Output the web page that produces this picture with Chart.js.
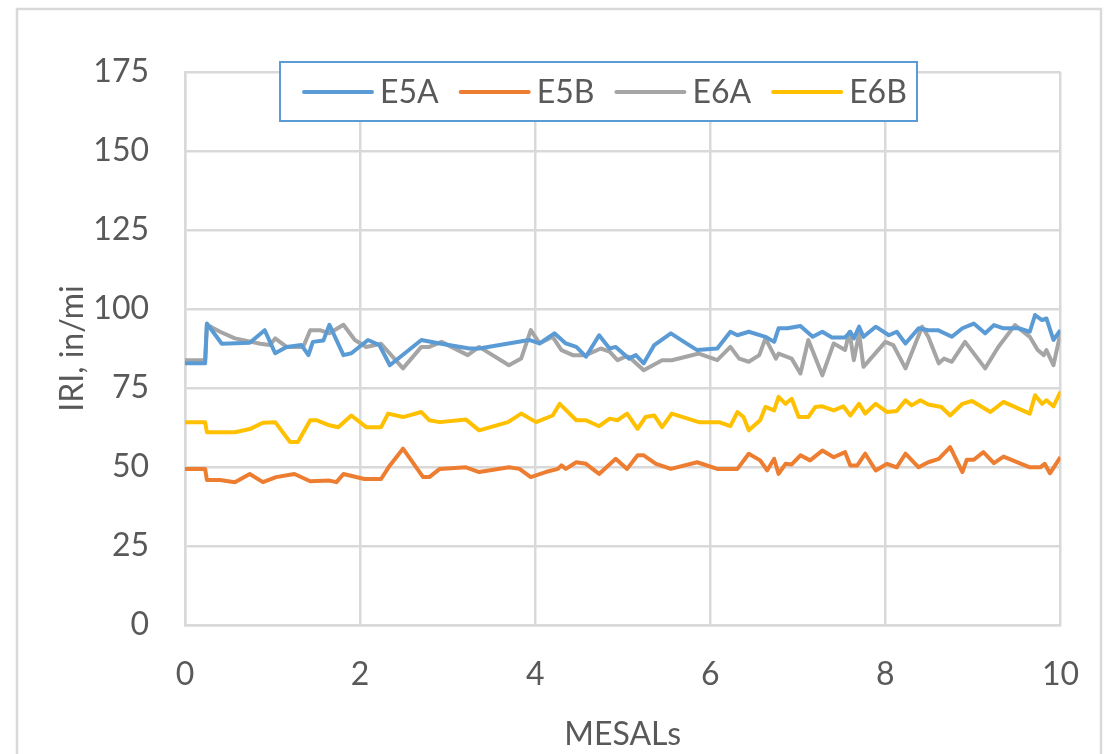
<!DOCTYPE html>
<html>
<head>
<meta charset="utf-8">
<script src="https://cdn.jsdelivr.net/npm/chart.js@4/dist/chart.umd.min.js"></script>
<style>
  html, body { margin: 0; padding: 0; background: #ffffff; }
  #wrap { width: 1109px; height: 754px; position: relative; }
</style>
</head>
<body>
<div id="wrap"><canvas id="grafica"></canvas></div>
<script>
/* ===============================
   DATOS
================================= */
const series = ["E5A", "E5B", "E6A", "E6B"];
const colores = ["#5b9bd5", "#ed7d31", "#a5a5a5", "#ffc000"];
const ticksX = [0, 2, 4, 6, 8, 10];
const ticksY = [0, 25, 50, 75, 100, 125, 150, 175];

const e5aX = [0, 0.23, 0.25, 0.42, 0.74, 0.91, 1.03, 1.16, 1.33, 1.41, 1.46, 1.58, 1.65, 1.81, 1.9, 2.09, 2.22, 2.34, 2.7, 2.91, 3.25, 3.36, 3.93, 4.05, 4.22, 4.35, 4.47, 4.58, 4.73, 4.85, 4.92, 5.07, 5.15, 5.24, 5.36, 5.55, 5.7, 5.85, 6.08, 6.23, 6.31, 6.44, 6.63, 6.73, 6.78, 6.88, 7.03, 7.17, 7.28, 7.39, 7.54, 7.6, 7.64, 7.7, 7.75, 7.89, 8.04, 8.13, 8.23, 8.38, 8.49, 8.6, 8.76, 8.88, 9.01, 9.14, 9.24, 9.35, 9.52, 9.65, 9.71, 9.79, 9.84, 9.92, 10];
const e5aY = [82.8, 82.8, 95.4, 89, 89.3, 93.3, 86, 88, 88.6, 85.4, 89.6, 90, 95, 85.4, 86, 90.2, 88.6, 82.2, 90.2, 89.1, 87.5, 87.5, 90.2, 89.1, 92.3, 89.1, 88, 84.9, 91.7, 87.5, 88, 84.3, 85.4, 82.8, 88.6, 92.3, 89.6, 87, 87.5, 92.8, 91.7, 92.8, 91.2, 89.6, 93.9, 93.9, 94.6, 91.2, 92.8, 91, 91, 92.8, 90.7, 94.4, 91.2, 94.4, 91.7, 92.8, 89.1, 93.9, 93.3, 93.3, 91.2, 93.9, 95.4, 92.3, 94.9, 93.9, 93.9, 92.8, 98.1, 96.5, 97, 90.2, 93.3];

const e5bX = [0, 0.23, 0.25, 0.4, 0.57, 0.74, 0.89, 1.04, 1.25, 1.43, 1.65, 1.73, 1.81, 2.05, 2.24, 2.34, 2.49, 2.72, 2.79, 2.91, 3.21, 3.36, 3.7, 3.82, 3.95, 4.12, 4.26, 4.3, 4.35, 4.47, 4.58, 4.73, 4.92, 5.05, 5.17, 5.24, 5.38, 5.55, 5.85, 6.08, 6.31, 6.44, 6.57, 6.65, 6.73, 6.78, 6.86, 6.93, 7.03, 7.14, 7.28, 7.41, 7.54, 7.6, 7.68, 7.77, 7.89, 8.02, 8.13, 8.23, 8.38, 8.49, 8.61, 8.74, 8.88, 8.93, 9.01, 9.12, 9.24, 9.35, 9.65, 9.77, 9.82, 9.88, 10];
const e5bY = [49.4, 49.4, 45.9, 45.9, 45.2, 47.8, 45.2, 46.8, 47.8, 45.5, 45.7, 45.2, 47.8, 46.2, 46.2, 50.5, 55.8, 46.8, 46.8, 49.4, 49.9, 48.4, 49.9, 49.4, 46.8, 48.4, 49.4, 50.5, 49.4, 51.5, 51, 47.8, 52.6, 49.4, 53.7, 53.7, 51, 49.4, 51.5, 49.4, 49.4, 54.2, 52.1, 48.9, 52.6, 47.8, 51, 50.8, 53.7, 52.1, 55.2, 53.1, 54.7, 50.5, 50.5, 54.2, 48.9, 51, 49.9, 54.2, 49.9, 51.5, 52.6, 56.3, 48.4, 52.3, 52.3, 54.7, 51.2, 53.3, 49.9, 49.9, 51, 48, 53.1];

const e6aX = [0, 0.23, 0.25, 0.4, 0.57, 0.86, 0.97, 1.03, 1.16, 1.35, 1.43, 1.54, 1.65, 1.81, 1.94, 2.07, 2.24, 2.49, 2.7, 2.79, 2.93, 3.23, 3.36, 3.7, 3.84, 3.95, 4.05, 4.2, 4.3, 4.43, 4.58, 4.75, 4.85, 4.94, 5.03, 5.07, 5.24, 5.45, 5.56, 5.87, 6.08, 6.23, 6.33, 6.44, 6.56, 6.63, 6.75, 6.78, 6.93, 7.03, 7.12, 7.28, 7.41, 7.54, 7.59, 7.64, 7.7, 7.75, 8, 8.09, 8.23, 8.42, 8.49, 8.61, 8.67, 8.76, 8.91, 9.14, 9.29, 9.48, 9.65, 9.74, 9.81, 9.84, 9.92, 10];
const e6aY = [83.8, 83.8, 95, 92.8, 90.7, 89, 88.6, 90.7, 88, 88, 93.3, 93.3, 92.3, 95, 90.2, 88, 89, 81.2, 88, 88, 89.6, 85.4, 88, 82.2, 84.3, 93.3, 89.1, 91.2, 87, 85.4, 85.4, 87.5, 86.5, 83.8, 84.9, 84.9, 80.6, 83.8, 83.8, 85.9, 83.8, 88, 84.3, 83.3, 85.4, 90.7, 84.3, 85.9, 84.3, 79.6, 90.2, 79, 89.1, 87, 92.8, 83.8, 92.3, 81.7, 89.6, 88.6, 81.2, 94.4, 91.2, 82.8, 84.3, 83.3, 89.6, 81.2, 88, 94.9, 91.2, 87, 85.4, 87, 82.2, 92.3];

const e6bX = [0, 0.23, 0.25, 0.57, 0.74, 0.89, 1.03, 1.2, 1.29, 1.43, 1.5, 1.65, 1.75, 1.9, 2.07, 2.24, 2.32, 2.49, 2.7, 2.79, 2.91, 3.21, 3.36, 3.69, 3.84, 4.01, 4.2, 4.28, 4.47, 4.58, 4.73, 4.85, 4.94, 5.05, 5.17, 5.26, 5.36, 5.45, 5.56, 5.87, 6.1, 6.23, 6.31, 6.38, 6.44, 6.57, 6.63, 6.73, 6.78, 6.86, 6.93, 7.01, 7.12, 7.2, 7.28, 7.41, 7.52, 7.6, 7.7, 7.77, 7.89, 8.02, 8.13, 8.23, 8.3, 8.4, 8.49, 8.64, 8.74, 8.88, 8.99, 9.2, 9.35, 9.65, 9.71, 9.79, 9.84, 9.92, 10];
const e6bY = [64.2, 64.2, 61, 61, 62, 64, 64.2, 57.9, 57.9, 64.8, 64.8, 63.2, 62.6, 66.3, 62.6, 62.6, 66.9, 65.8, 67.4, 64.8, 64.2, 65, 61.6, 64.2, 66.9, 64.2, 66.3, 70, 64.8, 64.8, 62.9, 65.3, 64.8, 66.9, 62.1, 65.8, 66.3, 62.6, 66.9, 64.2, 64.2, 62.9, 67.4, 65.8, 61.6, 64.8, 69, 67.9, 72.2, 70, 71.6, 65.8, 65.8, 69, 69.2, 67.9, 69.2, 66.3, 70, 66.9, 70, 67.4, 67.7, 71.1, 69.5, 71.1, 69.8, 69, 66.3, 70, 70.9, 67.4, 70.6, 66.9, 72.7, 70, 71.1, 69.2, 73.8];

const valoresX = [e5aX, e5bX, e6aX, e6bX];
const valoresY = [e5aY, e5bY, e6aY, e6bY];

/* ===============================
   ESTILO
================================= */
const fuente = "Lato, 'Open Sans', sans-serif";
const grisTexto = "#595959";
const grisLinea = "#d9d9d9";

function puntos(xs, ys) {
    return xs.map((x, i) => ({ x: x, y: ys[i] }));
}

let datasets = series.map((nombre, i) => ({
    label: nombre,
    data: puntos(valoresX[i], valoresY[i]),
    borderColor: colores[i],
    backgroundColor: colores[i],
    borderWidth: 4,
    pointRadius: 0,
    showLine: true,
    tension: 0,
    borderJoinStyle: "round"
}));

/* marco exterior del grafico */
const marco = {
    id: "marco",
    beforeDraw(chart) {
        let ctx = chart.ctx;
        ctx.save();
        ctx.fillStyle = "#ffffff";
        ctx.fillRect(0, 0, chart.width, chart.height);
        ctx.strokeStyle = grisLinea;
        ctx.lineWidth = 2.5;
        ctx.strokeRect(17, 9, 1084, 800);
        ctx.restore();
    }
};

/* leyenda con recuadro azul, dentro del area */
const leyenda = {
    id: "leyenda",
    afterDraw(chart) {
        let ctx = chart.ctx;
        ctx.save();
        ctx.fillStyle = "#ffffff";
        ctx.fillRect(280, 62, 637, 59);
        ctx.strokeStyle = "#5b9bd5";
        ctx.lineWidth = 2;
        ctx.strokeRect(280, 62, 637, 59);

        ctx.font = "32px " + fuente;
        ctx.textBaseline = "middle";
        ctx.textAlign = "left";
        let x = 304;
        let y = 92;
        chart.data.datasets.forEach(ds => {
            ctx.strokeStyle = ds.borderColor;
            ctx.lineWidth = 4;
            ctx.lineCap = "round";
            ctx.beginPath();
            ctx.moveTo(x, y);
            ctx.lineTo(x + 68, y);
            ctx.stroke();
            x += 76;
            ctx.fillStyle = grisTexto;
            ctx.fillText(ds.label, x, y + 1);
            x += ctx.measureText(ds.label).width + 22;
        });
        ctx.restore();
    }
};

new Chart(document.getElementById("grafica"), {
    type: "scatter",
    data: { datasets: datasets },
    options: {
        responsive: true,
        maintainAspectRatio: false,
        animation: false,
        layout: { padding: { left: 0, top: 72, right: 47, bottom: 0 } },
        plugins: {
            legend: { display: false },
            tooltip: { enabled: false }
        },
        scales: {
            x: {
                type: "linear",
                min: ticksX[0],
                max: ticksX[ticksX.length - 1],
                afterBuildTicks: axis => { axis.ticks = ticksX.map(v => ({ value: v })); },
                afterFit: axis => { axis.height = 129; },
                grid: { color: grisLinea, lineWidth: 2.5, drawTicks: false },
                border: { color: grisLinea, width: 2.5 },
                ticks: { color: grisTexto, font: { family: fuente, size: 32 }, padding: 30, maxRotation: 0 },
                title: {
                    display: true,
                    text: "MESALs",
                    color: grisTexto,
                    font: { family: fuente, size: 32 },
                    padding: { top: 14, bottom: 0 }
                }
            },
            y: {
                type: "linear",
                min: ticksY[0],
                max: ticksY[ticksY.length - 1],
                afterBuildTicks: axis => { axis.ticks = ticksY.map(v => ({ value: v })); },
                afterFit: axis => { axis.width = 185; },
                grid: { color: grisLinea, lineWidth: 2.5, drawTicks: false },
                border: { color: grisLinea, width: 2.5 },
                ticks: { color: grisTexto, font: { family: fuente, size: 32 }, padding: 36 },
                title: {
                    display: true,
                    text: "IRI, in/mi",
                    color: grisTexto,
                    font: { family: fuente, size: 32 },
                    padding: { top: 53, bottom: 20 }
                }
            }
        }
    },
    plugins: [marco, leyenda]
});
</script>
</body>
</html>
